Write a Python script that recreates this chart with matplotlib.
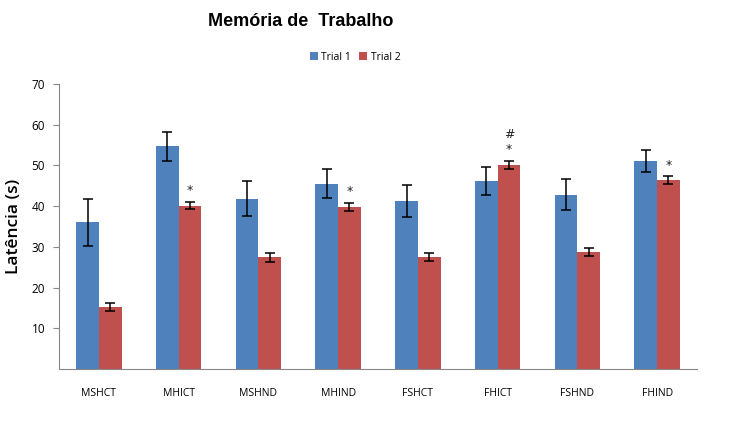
import matplotlib
matplotlib.use("Agg")
import matplotlib.pyplot as plt
import numpy as np

categories = ["MSHCT", "MHICT", "MSHND", "MHIND", "FSHCT", "FHICT", "FSHND", "FHIND"]
trial1 = [36.0, 54.7, 41.8, 45.5, 41.3, 46.2, 42.8, 51.1]
trial1_err = [5.7, 3.6, 4.3, 3.6, 3.9, 3.5, 3.8, 2.6]
trial2 = [15.2, 40.1, 27.4, 39.8, 27.5, 50.1, 28.7, 46.4]
trial2_err = [0.9, 0.9, 1.0, 0.9, 0.9, 0.9, 0.9, 0.9]
star_marks = ["", "*", "", "*", "", "*", "", "*"]
hash_marks = ["", "", "", "", "", "#", "", ""]

blue = "#4F81BD"
red = "#C0504D"

fig = plt.figure(figsize=(7.32, 4.40), dpi=100)
ax = fig.add_axes([59/732, 1-369/440, (697-59)/732, (369-84)/440])

x = np.arange(len(categories))
w = 0.285
ax.bar(x - w/2, trial1, w, color=blue, label="Trial 1", zorder=2)
ax.bar(x + w/2, trial2, w, color=red, label="Trial 2", zorder=2)
ax.errorbar(x - w/2, trial1, yerr=trial1_err, fmt="none", ecolor="black",
            elinewidth=1.1, capsize=3.5, capthick=1.1, zorder=3)
ax.errorbar(x + w/2, trial2, yerr=trial2_err, fmt="none", ecolor="black",
            elinewidth=1.1, capsize=3.5, capthick=1.1, zorder=3)

for i in range(len(categories)):
    if star_marks[i]:
        ax.text(x[i] + w/2, trial2[i] + trial2_err[i] + 1.2, star_marks[i],
                ha="center", va="bottom", fontsize=9, color="#222222")
    if hash_marks[i]:
        ax.text(x[i] + w/2, trial2[i] + trial2_err[i] + 5.0, hash_marks[i],
                ha="center", va="bottom", fontsize=9, color="#222222")

ax.set_xlim(-0.5, len(categories) - 0.5)
ax.set_ylim(0, 70)
ax.set_yticks([10, 20, 30, 40, 50, 60, 70])
ax.set_xticks(x)
ax.set_xticklabels(categories, fontsize=7.5, family="Open Sans")
for lbl in ax.get_yticklabels():
    lbl.set_fontsize(8.5)
    lbl.set_family("Open Sans")
ax.tick_params(axis="x", length=0, pad=14)
ax.tick_params(axis="y", length=4, direction="out", color="#888888", pad=6)
for s in ["top", "right"]:
    ax.spines[s].set_visible(False)
ax.spines["left"].set_color("#888888")
ax.spines["bottom"].set_color("#888888")

ax.set_ylabel("Latência (s)", fontsize=12.5, family="Open Sans", fontweight="semibold")
ax.yaxis.set_label_coords((22 - 59) / 638, 0.5)

fig.text(301/732, 1-21/440, "Memória de  Trabalho", ha="center", va="center",
         fontsize=13, fontweight="bold", family="Liberation Sans")

leg = fig.legend(loc="center", bbox_to_anchor=(355/732, 1-57/440), ncol=2,
                 frameon=False, handlelength=0.8, handleheight=0.8,
                 columnspacing=0.8, handletextpad=0.3,
                 prop={"family": "Open Sans", "size": 7.5})

fig.savefig("out.png", dpi=100)
